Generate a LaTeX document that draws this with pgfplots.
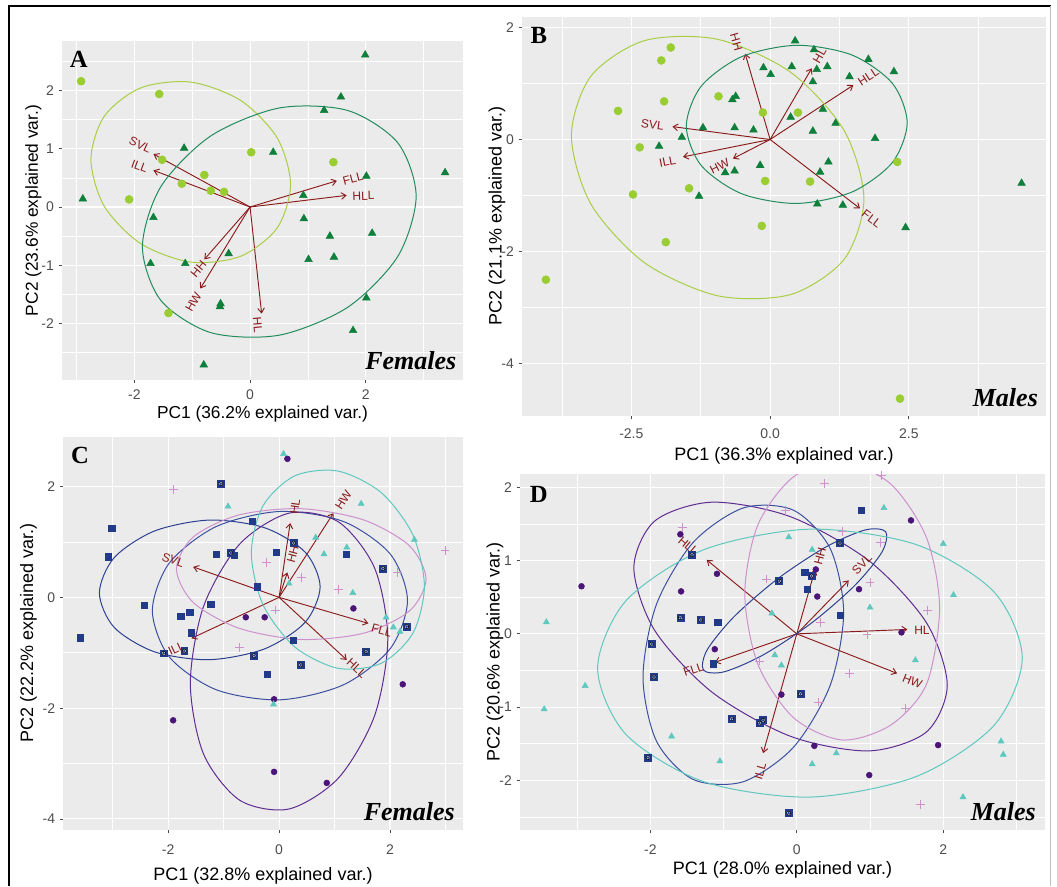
\documentclass[border=0pt]{standalone}
\usepackage{fontspec}
\setmainfont{Liberation Sans}
\newfontfamily\serifbf{Liberation Serif}
\usepackage{pgfplots}
\pgfplotsset{compat=1.18}
\usepackage{pgfplotstable}
\usetikzlibrary{arrows.meta}

\definecolor{lgreen}{RGB}{154,205,50}
\definecolor{dgreen}{RGB}{15,128,60}
\definecolor{lgell}{RGB}{170,205,70}
\definecolor{dgell}{RGB}{35,140,95}
\definecolor{arrowred}{RGB}{139,26,26}
\definecolor{navy}{RGB}{33,58,138}
\definecolor{navyell}{RGB}{45,65,145}
\definecolor{navyell2}{RGB}{60,80,160}
\definecolor{purp}{RGB}{74,20,120}
\definecolor{purpell}{RGB}{95,45,145}
\definecolor{pinkc}{RGB}{205,145,205}
\definecolor{cyanc}{RGB}{95,200,190}
\definecolor{ggbg}{RGB}{235,235,235}
\definecolor{ggtick}{RGB}{77,77,77}

\pgfplotsset{
 gg/.style={scale only axis, anchor=south west,
  axis background/.style={fill=ggbg},
  axis line style={draw=none},
  grid=both,
  major grid style={white, line width=0.8pt},
  minor grid style={white, line width=0.4pt},
  tick align=outside, tick pos=left,
  major tick length=2.6pt, minor tick length=0pt,
  tick style={black!70, line width=0.6pt},
  tick label style={font=\fontsize{10.5}{12}\selectfont, text=ggtick},
  label style={font=\fontsize{13.5}{15}\selectfont},
 },
 ell/.style={line width=0.75pt, smooth cycle},
 arr/.style={arrowred, line width=0.7pt, -{Straight Barb[length=3.5pt,width=5pt]}},
}
\tikzset{vlab/.style={text=arrowred, font=\fontsize{9}{10}\selectfont, inner sep=0pt},
 plab/.style={font=\serifbf\bfseries\fontsize{18.5}{19}\selectfont},
 slab/.style={font=\serifbf\bfseries\itshape\fontsize{19.5}{20}\selectfont, anchor=base east, inner sep=0pt}}

% ---------------- data ----------------
\pgfplotstableread{
x y
-2.92 2.16
-1.57 1.94
0.02 0.94
-1.52 0.81
-0.79 0.55
-1.18 0.40
-0.68 0.28
-0.45 0.26
-2.09 0.13
-1.41 -1.82
1.44 0.77
}\tAc
\pgfplotstableread{
x y
-1.14 1.01
-2.89 0.14
-1.67 -0.18
-1.72 -0.97
-1.12 -0.97
-0.37 -0.80
-0.51 -1.66
-0.52 -1.71
-0.80 -2.71
1.99 2.61
1.57 1.89
1.28 1.66
0.40 0.94
2.01 0.53
3.37 0.59
0.92 0.20
0.93 -0.20
1.38 -0.50
2.11 -0.45
1.01 -0.90
1.45 -0.86
2.01 -1.56
1.78 -2.12
}\tAt
\pgfplotstableread{
x y
-1.79 1.64
-1.96 1.41
-1.91 0.68
-2.74 0.51
-0.93 0.77
-0.13 0.48
-2.35 -0.14
-0.09 -0.74
-2.47 -0.98
-1.46 -0.87
-0.15 -1.54
-1.88 -1.83
-4.04 -2.50
0.50 0.48
0.72 -0.75
2.29 -0.40
2.34 -4.62
}\tBc
\pgfplotstableread{
x y
-0.12 1.28
0.01 1.16
-0.68 0.71
-0.62 0.77
-1.21 0.21
-1.59 0.04
-2.00 -0.12
-0.64 0.21
-0.30 0.17
-0.18 -0.46
-0.81 -0.59
-0.64 -0.56
-1.28 -1.01
0.45 1.76
0.79 1.60
0.39 1.30
0.84 1.25
1.03 1.30
0.77 1.03
1.43 1.12
1.77 1.43
2.23 1.21
0.95 0.54
0.37 0.40
1.18 0.29
0.77 0.15
1.89 0.02
1.05 -0.40
0.90 -0.58
0.85 -1.15
1.31 -1.17
2.44 -1.57
4.53 -0.78
}\tBt
\pgfplotstableread{
x y
-3.02 1.25
-3.08 0.73
-3.58 -0.73
-2.43 -0.14
-1.77 -0.34
-1.61 -0.27
-1.23 -0.12
-1.58 -0.64
-1.13 0.78
-0.81 0.76
-0.48 1.37
-0.39 0.19
-0.05 0.81
0.26 -0.77
-0.21 -1.39
1.21 0.78
}\tCsq
\pgfplotstableread{
x y
-1.05 2.05
-0.87 0.80
-2.08 -1.01
-1.71 -0.97
-0.45 -1.05
0.26 0.98
1.87 0.52
2.30 -0.53
1.57 -0.98
0.39 -1.22
}\tCbx
\pgfplotstableread{
x y
-1.91 -2.22
-0.60 -0.36
0.15 2.50
-0.26 -0.36
1.34 -0.20
2.23 -1.57
-0.09 -1.84
-0.09 -3.15
0.86 -3.35
}\tCpu
\pgfplotstableread{
x y
-1.91 1.94
-0.72 -0.90
-0.23 0.63
0.41 0.36
1.07 0.14
-0.07 -0.23
2.14 0.45
2.99 0.84
}\tCpk
\pgfplotstableread{
x y
-0.92 1.64
0.08 2.59
1.48 1.69
0.66 1.08
1.22 0.90
0.81 0.78
0.18 0.25
1.33 0.08
2.44 1.04
1.93 -0.36
2.06 -0.54
2.18 -0.62
-0.10 -1.93
}\tCcy
\pgfplotstableread{
x y
-1.59 1.36
-1.09 0.82
-1.58 0.58
-2.94 0.65
-1.12 -0.21
0.26 0.88
0.28 0.51
0.85 0.61
1.56 1.55
1.43 0.02
-0.21 -0.83
0.24 -1.53
1.93 -1.52
0.99 -1.93
}\tDpu
\pgfplotstableread{
x y
-1.43 1.08
-1.59 0.22
-1.31 0.19
-1.98 -0.14
-1.95 -0.59
-0.89 -1.16
-0.46 -1.18
-0.51 -1.22
-2.03 -1.69
0.59 1.24
0.20 0.79
-0.24 0.72
0.05 -0.82
-0.11 -2.45
}\tDbx
\pgfplotstableread{
x y
-1.08 0.16
-1.14 -0.41
0.88 1.69
0.11 0.84
0.14 0.61
0.59 0.25
}\tDsq
\pgfplotstableread{
x y
-1.56 1.45
-0.41 0.75
-0.51 -0.37
0.38 2.05
1.16 2.16
-0.15 1.68
0.62 1.40
1.14 1.25
1.00 0.70
0.32 0.16
0.96 -0.01
1.78 0.32
0.72 -0.54
0.30 -0.93
1.48 -1.02
1.69 -2.33
}\tDpk
\pgfplotstableread{
x y
-3.42 0.16
-2.89 -0.71
-3.45 -1.03
-1.71 -1.40
-1.05 -1.74
-0.11 1.32
0.21 1.15
1.19 1.72
2.00 1.23
2.14 0.53
1.00 0.36
-0.34 0.28
-0.30 -0.29
-0.21 -0.43
1.62 -0.36
0.54 -1.63
0.21 -1.78
2.79 -1.47
2.82 -1.65
2.27 -2.23
}\tDcy

\begin{document}
\begin{tikzpicture}
\path[use as bounding box] (0,0) rectangle (792.75pt,-664.5pt);

% ================= A =================
\begin{axis}[gg, at={(46.5pt,-285pt)}, width=300.75pt, height=254.25pt,
 xmin=-3.25, xmax=3.68, ymin=-2.97, ymax=2.85,
 xtick={-2,0,2}, xticklabels={-2,0,2},
 ytick={-2,-1,0,1,2}, yticklabels={-2,-1,0,1,2},
 minor xtick={-3,-1,1,3}, minor ytick={-2.5,-1.5,-0.5,0.5,1.5,2.5},
 xticklabel style={yshift=-1.5pt},
 label style={font=\fontsize{13}{15}\selectfont},
 xlabel={PC1 (36.2\% explained var.)}, ylabel={PC2 (23.6\% explained var.)},
 xlabel style={at={(axis description cs:0.5,-0.1)}, anchor=center},
 ylabel style={at={(axis description cs:-0.0716,0.5)}, anchor=center}]
\addplot[arr] coordinates {(0,0) (-1.67,0.91)};
\addplot[arr] coordinates {(0,0) (-1.67,0.63)};
\addplot[arr] coordinates {(0,0) (-0.79,-0.90)};
\addplot[arr] coordinates {(0,0) (-0.86,-1.40)};
\addplot[arr] coordinates {(0,0) (0.20,-1.83)};
\addplot[arr] coordinates {(0,0) (1.50,0.45)};
\addplot[arr] coordinates {(0,0) (1.67,0.20)};
\addplot[only marks, mark=*, mark size=3pt, color=lgreen] table {\tAc};
\addplot[only marks, mark=triangle*, mark size=3.3pt, color=dgreen] table {\tAt};
\addplot[ell, lgell] coordinates {(0.70,0.385) (0.469,1.187) (-0.163,1.83) (-1.025,2.145) (-1.888,2.046) (-2.519,1.559) (-2.75,0.815) (-2.519,0.013) (-1.888,-0.63) (-1.025,-0.945) (-0.163,-0.846) (0.469,-0.359)};
\addplot[ell, dgell] coordinates {(2.87,0.185) (2.553,1.102) (1.688,1.657) (0.505,1.70) (-0.678,1.221) (-1.543,0.348) (-1.86,-0.685) (-1.543,-1.602) (-0.678,-2.157) (0.505,-2.20) (1.688,-1.721) (2.553,-0.848)};
\node[vlab, rotate=-25] at (axis cs:-1.90,1.07) {SVL};
\node[vlab, rotate=-20] at (axis cs:-1.91,0.70) {ILL};
\node[vlab, rotate=50] at (axis cs:-0.89,-1.06) {HH};
\node[vlab, rotate=60] at (axis cs:-0.98,-1.63) {HW};
\node[vlab, rotate=-85] at (axis cs:0.13,-2.03) {HL};
\node[vlab, rotate=15] at (axis cs:1.78,0.49) {FLL};
\node[vlab, rotate=2] at (axis cs:1.96,0.19) {HLL};
\node[plab] at (rel axis cs:0.042,0.947) {A};
\node[slab] at (rel axis cs:0.984,0.03) {Females};
\end{axis}

% ================= B =================
\begin{axis}[gg, at={(391.5pt,-312pt)}, width=393pt, height=299.5pt,
 xmin=-4.47, xmax=4.97, ymin=-4.93, ymax=2.19,
 xtick={-2.5,0,2.5}, xticklabels={-2.5,0.0,2.5},
 ytick={-4,-2,0,2}, yticklabels={-4,-2,0,2},
 minor xtick={-3.75,-1.25,1.25,3.75}, minor ytick={-3,-1,1},
 xticklabel style={yshift=-3.5pt},
 xlabel={PC1 (36.3\% explained var.)}, ylabel={PC2 (21.1\% explained var.)},
 xlabel style={at={(axis description cs:0.5,-0.1)}, anchor=center},
 ylabel style={at={(axis description cs:-0.0477,0.5)}, anchor=center}]
\addplot[arr] coordinates {(0,0) (-0.45,1.53)};
\addplot[arr] coordinates {(0,0) (-1.76,0.23)};
\addplot[arr] coordinates {(0,0) (-1.57,-0.31)};
\addplot[arr] coordinates {(0,0) (-0.67,-0.34)};
\addplot[arr] coordinates {(0,0) (0.75,1.27)};
\addplot[arr] coordinates {(0,0) (1.50,0.97)};
\addplot[arr] coordinates {(0,0) (1.62,-1.23)};
\addplot[only marks, mark=*, mark size=3pt, color=lgreen] table {\tBc};
\addplot[only marks, mark=triangle*, mark size=3.3pt, color=dgreen] table {\tBt};
\addplot[ell, lgell] coordinates {(1.69,-1.065) (1.337,0.154) (0.373,1.197) (-0.945,1.786) (-2.263,1.763) (-3.227,1.132) (-3.58,0.065) (-3.227,-1.154) (-2.263,-2.197) (-0.945,-2.786) (0.373,-2.763) (1.337,-2.132)};
\addplot[ell, dgell] coordinates {(2.47,0.30) (2.203,1.001) (1.475,1.506) (0.48,1.68) (-0.515,1.476) (-1.243,0.949) (-1.51,0.24) (-1.243,-0.461) (-0.515,-0.966) (0.48,-1.14) (1.475,-0.936) (2.203,-0.409)};
\node[vlab, rotate=-74] at (axis cs:-0.61,1.74) {HH};
\node[vlab, rotate=-7] at (axis cs:-2.12,0.26) {SVL};
\node[vlab, rotate=11] at (axis cs:-1.85,-0.40) {ILL};
\node[vlab, rotate=27] at (axis cs:-0.91,-0.48) {HW};
\node[vlab, rotate=60] at (axis cs:0.89,1.50) {HL};
\node[vlab, rotate=33] at (axis cs:1.77,1.12) {HLL};
\node[vlab, rotate=-37] at (axis cs:1.83,-1.41) {FLL};
\node[plab] at (rel axis cs:0.032,0.954) {B};
\node[slab] at (rel axis cs:0.985,0.023) {Males};
\end{axis}

% ================= C =================
\begin{axis}[gg, at={(47.5pt,-622.5pt)}, width=299.5pt, height=295pt,
 xmin=-3.89, xmax=3.31, ymin=-4.2, ymax=2.9,
 xtick={-2,0,2}, xticklabels={-2,0,2},
 ytick={-4,-2,0,2}, yticklabels={-4,-2,0,2},
 minor xtick={-3,-1,1,3}, minor ytick={-3,-1,1},
 xticklabel style={yshift=-5pt},
 xlabel={PC1 (32.8\% explained var.)}, ylabel={PC2 (22.2\% explained var.)},
 xlabel style={at={(axis description cs:0.5,-0.117)}, anchor=center},
 ylabel style={at={(axis description cs:-0.0876,0.5)}, anchor=center}]
\addplot[arr] coordinates {(0,0) (-1.55,0.55)};
\addplot[arr] coordinates {(0,0) (-1.58,-0.74)};
\addplot[arr] coordinates {(0,0) (0.20,1.34)};
\addplot[arr] coordinates {(0,0) (0.15,0.45)};
\addplot[arr] coordinates {(0,0) (0.98,1.52)};
\addplot[arr] coordinates {(0,0) (1.61,-0.47)};
\addplot[arr] coordinates {(0,0) (1.22,-1.13)};
\addplot[only marks, mark=square*, mark size=2.4pt, color=navy] table {\tCsq};
\addplot[only marks, mark=square*, mark size=2.6pt, color=navy] table {\tCbx};
\addplot[only marks, mark=*, mark size=1.5pt, draw=none, fill=white] table {\tCbx};
\addplot[only marks, mark=*, mark size=0.7pt, color=navy] table {\tCbx};
\addplot[only marks, mark=*, mark size=2.2pt, color=purp] table {\tCpu};
\addplot[only marks, mark=+, mark size=3.3pt, line width=0.6pt, color=pinkc] table {\tCpk};
\addplot[only marks, mark=triangle*, mark size=2.6pt, color=cyanc] table {\tCcy};
\addplot[ell, navyell] coordinates {(0.74,0.19) (0.473,0.813) (-0.255,1.254) (-1.25,1.395) (-2.245,1.198) (-2.973,0.717) (-3.24,0.08) (-2.973,-0.543) (-2.245,-0.984) (-1.25,-1.125) (-0.255,-0.928) (0.473,-0.447)};
\addplot[ell, navyell2] coordinates {(2.315,-0.06) (2.007,0.778) (1.165,1.367) (0.015,1.55) (-1.135,1.277) (-1.977,0.622) (-2.285,-0.24) (-1.977,-1.078) (-1.135,-1.667) (0.015,-1.85) (1.165,-1.577) (2.007,-0.922)};
\addplot[ell, purpell] coordinates {(1.96,-0.75) (1.721,0.531) (1.07,1.362) (0.18,1.52) (-0.71,0.962) (-1.361,-0.161) (-1.6,-1.55) (-1.361,-2.831) (-0.71,-3.662) (0.18,-3.82) (1.07,-3.262) (1.721,-2.139)};
\addplot[ell, pinkc] coordinates {(2.65,0.33) (2.349,0.932) (1.525,1.397) (0.4,1.6) (-0.725,1.487) (-1.549,1.088) (-1.85,0.51) (-1.549,-0.092) (-0.725,-0.557) (0.4,-0.76) (1.525,-0.647) (2.349,-0.248)};
\addplot[ell, cyanc] coordinates {(2.62,0.2) (2.411,1.13) (1.84,1.892) (1.06,2.28) (0.28,2.192) (-0.291,1.65) (-0.5,0.8) (-0.291,-0.13) (0.28,-0.892) (1.06,-1.28) (1.84,-1.192) (2.411,-0.65)};
\node[vlab, rotate=-20] at (axis cs:-1.91,0.67) {SVL};
\node[vlab, rotate=25] at (axis cs:-1.85,-0.92) {ILL};
\node[vlab, rotate=82] at (axis cs:0.29,1.64) {HL};
\node[vlab, rotate=75] at (axis cs:0.25,0.78) {HH};
\node[vlab, rotate=57] at (axis cs:1.16,1.76) {HW};
\node[vlab, rotate=-16] at (axis cs:1.85,-0.59) {FLL};
\node[vlab, rotate=-43] at (axis cs:1.40,-1.28) {HLL};
\node[plab] at (rel axis cs:0.042,0.953) {C};
\node[slab] at (rel axis cs:0.981,0.025) {Females};
\end{axis}

% ================= D =================
\begin{axis}[gg, at={(390pt,-622.5pt)}, width=393.75pt, height=266.8pt,
 xmin=-3.78, xmax=3.39, ymin=-2.68, ymax=2.18,
 xtick={-2,0,2}, xticklabels={-2,0,2},
 ytick={-2,-1,0,1,2}, yticklabels={-2,-1,0,1,2},
 minor xtick={-3,-1,1,3}, minor ytick={-2.5,-1.5,-0.5,0.5,1.5},
 xticklabel style={yshift=-5pt},
 xlabel={PC1 (28.0\% explained var.)}, ylabel={PC2 (20.6\% explained var.)},
 xlabel style={at={(axis description cs:0.5,-0.113)}, anchor=center},
 ylabel style={at={(axis description cs:-0.0476,0.5)}, anchor=center}]
\addplot[arr] coordinates {(0,0) (-1.23,1.01)};
\addplot[arr] coordinates {(0,0) (-1.12,-0.39)};
\addplot[arr] coordinates {(0,0) (-0.46,-1.63)};
\addplot[arr] coordinates {(0,0) (0.25,0.88)};
\addplot[arr] coordinates {(0,0) (0.71,0.73)};
\addplot[arr] coordinates {(0,0) (1.51,0.06)};
\addplot[arr] coordinates {(0,0) (1.37,-0.54)};
\addplot[only marks, mark=square*, mark size=2.4pt, color=navy] table {\tDsq};
\addplot[only marks, mark=square*, mark size=2.6pt, color=navy] table {\tDbx};
\addplot[only marks, mark=*, mark size=1.5pt, draw=none, fill=white] table {\tDbx};
\addplot[only marks, mark=*, mark size=0.7pt, color=navy] table {\tDbx};
\addplot[only marks, mark=*, mark size=2.2pt, color=purp] table {\tDpu};
\addplot[only marks, mark=+, mark size=3.3pt, line width=0.6pt, color=pinkc] table {\tDpk};
\addplot[only marks, mark=triangle*, mark size=2.6pt, color=cyanc] table {\tDcy};
\addplot[ell, purpell] coordinates {(2.055,-0.7) (1.768,0.157) (0.985,0.999) (-0.085,1.6) (-1.155,1.799) (-1.938,1.543) (-2.225,0.9) (-1.938,0.043) (-1.155,-0.799) (-0.085,-1.4) (0.985,-1.599) (1.768,-1.343)};
\addplot[ell, navyell2] coordinates {(0.64,0.29) (0.456,1.166) (-0.045,1.689) (-0.73,1.72) (-1.415,1.249) (-1.916,0.404) (-2.1,-0.59) (-1.916,-1.466) (-1.415,-1.989) (-0.73,-2.02) (-0.045,-1.549) (0.456,-0.704)};
\addplot[ell, navyell] coordinates {(1.215,1.395) (0.933,1.419) (0.394,1.185) (-0.26,0.753) (-0.852,0.239) (-1.223,-0.217) (-1.275,-0.495) (-0.993,-0.519) (-0.454,-0.285) (0.2,0.147) (0.792,0.661) (1.163,1.117)};
\addplot[ell, cyanc] coordinates {(3.08,-0.33) (2.691,0.576) (1.63,1.22) (0.18,1.43) (-1.27,1.15) (-2.331,0.454) (-2.72,-0.47) (-2.331,-1.376) (-1.27,-2.02) (0.18,-2.23) (1.63,-1.95) (2.691,-1.254)};
\addplot[ell, pinkc] coordinates {(1.95,0.35) (1.772,1.313) (1.285,2.045) (0.62,2.35) (-0.045,2.145) (-0.532,1.487) (-0.71,0.55) (-0.532,-0.413) (-0.045,-1.145) (0.62,-1.45) (1.285,-1.245) (1.772,-0.687)};
\node[vlab, rotate=-40] at (axis cs:-1.48,1.20) {HLL};
\node[vlab, rotate=19] at (axis cs:-1.41,-0.49) {FLL};
\node[vlab, rotate=74] at (axis cs:-0.50,-1.88) {ILL};
\node[vlab, rotate=75] at (axis cs:0.32,1.06) {HH};
\node[vlab, rotate=45] at (axis cs:0.89,0.95) {SVL};
\node[vlab, rotate=0] at (axis cs:1.71,0.05) {HL};
\node[vlab, rotate=-22] at (axis cs:1.58,-0.65) {HW};
\node[plab] at (rel axis cs:0.036,0.942) {D};
\node[slab] at (rel axis cs:0.983,0.028) {Males};
\end{axis}

\draw[black, line width=1.5pt] (6.75pt,-664.5pt) -- (6.75pt,-4.5pt) -- (788pt,-4.5pt);
\draw[black!25, line width=0.5pt] (787.5pt,-4.5pt) -- (787.5pt,-664.5pt);
\end{tikzpicture}
\end{document}
